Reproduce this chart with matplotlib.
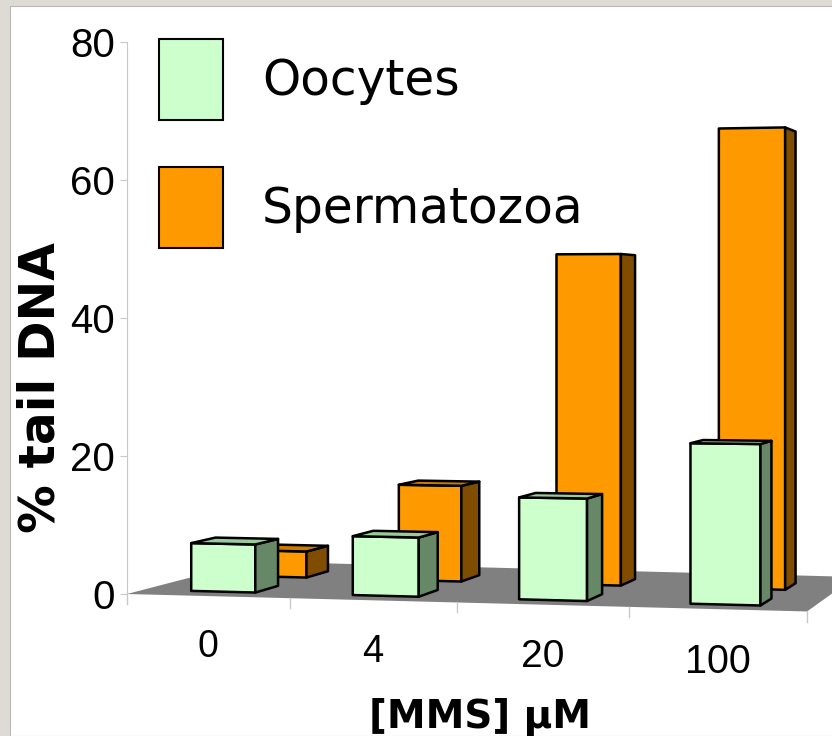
import matplotlib
matplotlib.use("Agg")
import matplotlib.pyplot as plt
from matplotlib.patches import Polygon, Rectangle, Patch

# data
doses = ['0', '4', '20', '100']
oocytes = [7.0, 8.5, 14.5, 22.5]
sperm = [4.0, 14.5, 49.5, 68.0]
series_names = ['Oocytes', 'Spermatozoa']
yticks = [0, 20, 40, 60, 80]

# colours: front, top, side
green = ('#ccffcc', '#99cc99', '#668866')
orange = ('#ff9900', '#cc7a00', '#7f4c00')

# fake excel-style perspective (pixel constants measured on the picture)
W, H = 832, 736
X0, Y0 = 127.0, 594.0      # front-left corner of the floor, value 0
K0 = 6.9                   # px per value unit on the value axis
HOR = 306.0                # horizon
VP = (1233.0, 306.0)       # vanishing point of depth lines
C = 0.01429
DX = 160.3
CZ = 7.85
EYE = (Y0 - HOR) / K0


def to_val(ypx):
    return (Y0 - ypx) / K0


def proj(x, z, v):
    d = 1 - C * x
    px = X0 + DX * x / d
    py = HOR + (EYE - v) * K0 / d
    s = z / (z + CZ)
    px = px + (VP[0] - px) * s
    py = py + (VP[1] - py) * s
    return px, to_val(py)


fig = plt.figure(figsize=(W / 100, H / 100), dpi=100)
fig.patch.set_facecolor('#dedbd4')
fig.patches.append(Rectangle((10 / W, 0), 1, 1 - 6 / H, transform=fig.transFigure,
                             facecolor='white', edgecolor='#b8b8b8', lw=0.8, zorder=-10))

ax = fig.add_axes([0, 0, 1, 1])
ax.set_facecolor('none')
ax.set_xlim(0, W)
ax.set_ylim(to_val(H), to_val(0))

n = len(doses)

# floor
floor = [proj(0, 0, 0), proj(n, 0, 0), proj(n, 1, 0), proj(0, 1, 0)]
ax.add_patch(Polygon(floor, closed=True, facecolor='#808080', edgecolor='none', zorder=1))

# category ticks and labels
for i in range(n + 1):
    a = proj(i, 0, 0)
    b = proj(i, 0, -1.4)
    ax.plot([a[0], b[0]], [a[1], b[1]], color='#c8c8c8', lw=1, zorder=1)
for i, lab in enumerate(doses):
    p = proj(i + 0.5, 0, -7.3)
    ax.text(p[0], p[1], lab, ha='center', va='center', fontsize=27 + 0.5 * i,
            family='Liberation Sans')


def bar3d(i, val, z1, z2, cols, zo):
    x1, x2 = i + 0.30, i + 0.70
    front = [proj(x1, z1, 0), proj(x2, z1, 0), proj(x2, z1, val), proj(x1, z1, val)]
    side = [proj(x2, z1, 0), proj(x2, z2, 0), proj(x2, z2, val), proj(x2, z1, val)]
    top = [proj(x1, z1, val), proj(x2, z1, val), proj(x2, z2, val), proj(x1, z2, val)]
    kw = dict(closed=True, edgecolor='black', lw=1.8, joinstyle='round', zorder=zo)
    ax.add_patch(Polygon(front, facecolor=cols[0], **kw))
    ax.add_patch(Polygon(side, facecolor=cols[2], **kw))
    if val < EYE:
        ax.add_patch(Polygon(top, facecolor=cols[1], **kw))


# back row first, then front row
for i, v in enumerate(sperm):
    bar3d(i, v, 0.56, 0.76, orange, 2)
for i, v in enumerate(oocytes):
    bar3d(i, v, 0.12, 0.31, green, 3)

# value axis
for s in ['top', 'right', 'bottom']:
    ax.spines[s].set_visible(False)
ax.spines['left'].set_position(('data', X0))
ax.spines['left'].set_bounds(0, 80)
ax.spines['left'].set_color('#c8c8c8')
ax.set_xticks([])
ax.set_yticks(yticks)
ax.set_yticklabels([str(t) for t in yticks], family='Liberation Sans')
ax.tick_params(axis='y', direction='out', length=5, color='#c8c8c8', labelsize=29, pad=3.5)

fig.text(41 / W, 1 - 388 / H, '% tail DNA', rotation=90, ha='center', va='center',
         fontsize=35, fontweight='bold')
fig.text(480 / W, 1 - 717 / H, '[MMS] µM', ha='center', va='center',
         fontsize=28, fontweight='bold')

handles = [Patch(facecolor=green[0], edgecolor='black', lw=1.5),
           Patch(facecolor=orange[0], edgecolor='black', lw=1.5)]
fs = 35
fpx = fs * 100 / 72
# matplotlib takes a descent off the handle box, so solve for an 81 px swatch
hh = (81 / fpx - 0.245) / 0.65
ax.legend(handles, series_names, loc='upper left',
          bbox_to_anchor=(159 / W, 1 - 39 / H), bbox_transform=fig.transFigure,
          frameon=False, borderpad=0, borderaxespad=0,
          handlelength=64 / fpx, handleheight=hh,
          labelspacing=47 / fpx, handletextpad=39 / fpx,
          prop={'size': fs, 'family': 'DejaVu Sans'})

fig.savefig('out.png', dpi=100)
